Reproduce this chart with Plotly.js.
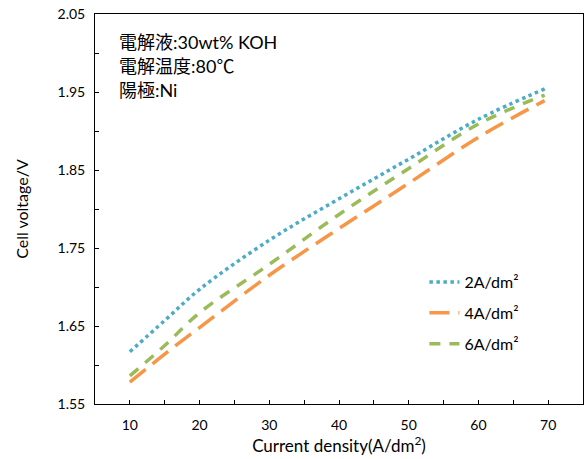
<!DOCTYPE html>
<html>
<head>
<meta charset="utf-8">
<script src="https://cdn.plot.ly/plotly-3.0.1.min.js"></script>
<style>html,body{margin:0;padding:0;background:#fff;}#chart{width:585px;height:459px;}</style>
</head>
<body>
<div id="chart"></div>
<script>
const currentDensity = [10, 15, 20, 30, 40, 50, 60, 69.5];
const v2A = [1.617, 1.657, 1.697, 1.760, 1.813, 1.864, 1.915, 1.954];
const v4A = [1.578, 1.614, 1.648, 1.715, 1.775, 1.833, 1.892, 1.939];
const v6A = [1.586, 1.625, 1.667, 1.729, 1.793, 1.852, 1.909, 1.946];
const seriesNames = ['2A/dm²', '4A/dm²', '6A/dm²'];
const xTickVals = [10, 20, 30, 40, 50, 60, 70];
const xTickText = ['10', '20', '30', '40', '50', '60', '70'];
const yTickVals = [1.55, 1.65, 1.75, 1.85, 1.95, 2.05];
const yTickText = ['1.55', '1.65', '1.75', '1.85', '1.95', '2.05'];
const noteLines = ['電解液:30wt% KOH', '電解温度:80℃', '陽極:Ni'];

const FONT = 'Lato, "Noto Sans CJK JP", "Noto Sans", sans-serif';

const traces = [
  {x: currentDensity, y: v2A, name: seriesNames[0], legendgroup: 'a', mode: 'lines',
   line: {color: '#4BACC6', width: 3.5, dash: 'dot', shape: 'spline'}},
  {x: currentDensity, y: v4A, name: seriesNames[1], legendgroup: 'b', mode: 'lines',
   line: {color: '#F79646', width: 3.5, dash: '20px,9px', shape: 'spline'}},
  {x: currentDensity, y: v6A, name: seriesNames[2], legendgroup: 'c', mode: 'lines',
   line: {color: '#9BBB59', width: 3.5, dash: '11px,9px', shape: 'spline'}}
];

const layout = {
  width: 585, height: 459,
  margin: {l: 95, r: 2, t: 14, b: 55},
  paper_bgcolor: '#fff', plot_bgcolor: '#fff',
  font: {family: FONT, color: '#000', size: 14},
  showlegend: true,
  legend: {x: 0.675, y: 0.356, xanchor: 'left', yanchor: 'top', bgcolor: 'rgba(0,0,0,0)',
           font: {size: 16, family: FONT}, traceorder: 'grouped', tracegroupgap: 7},
  xaxis: {range: [5, 75], tickmode: 'array', tickvals: xTickVals, ticktext: xTickText,
          ticks: 'inside', ticklen: 4, tickcolor: '#000', showgrid: false, zeroline: false,
          minor: {ticks: 'inside', ticklen: 4, tickcolor: '#000', tick0: 10, dtick: 5, showgrid: false},
          showline: true, linecolor: '#000', linewidth: 1, mirror: true,
          tickfont: {size: 14}, ticklabelstandoff: 8,
          title: {text: 'Current density(A/dm<sup>2</sup>)', font: {size: 17}, standoff: 6}},
  yaxis: {range: [1.55, 2.05], tickmode: 'array', tickvals: yTickVals, ticktext: yTickText,
          ticks: 'inside', ticklen: 4, tickcolor: '#000', showgrid: false, zeroline: false,
          minor: {ticks: 'inside', ticklen: 4, tickcolor: '#000', tick0: 1.55, dtick: 0.05, showgrid: false},
          showline: true, linecolor: '#000', linewidth: 1, mirror: true,
          tickfont: {size: 14}, ticklabelstandoff: 6,
          title: {text: 'Cell voltage/V', font: {size: 16}, standoff: 24}},
  annotations: noteLines.map((t, i) => ({
    xref: 'paper', yref: 'paper', x: 0.045, y: 0.928 - i * 0.062, xanchor: 'left', yanchor: 'middle',
    text: t, showarrow: false, font: {size: 18, family: FONT, color: '#000'}
  }))
};

Plotly.newPlot('chart', traces, layout, {displayModeBar: false, staticPlot: true});
</script>
</body>
</html>
